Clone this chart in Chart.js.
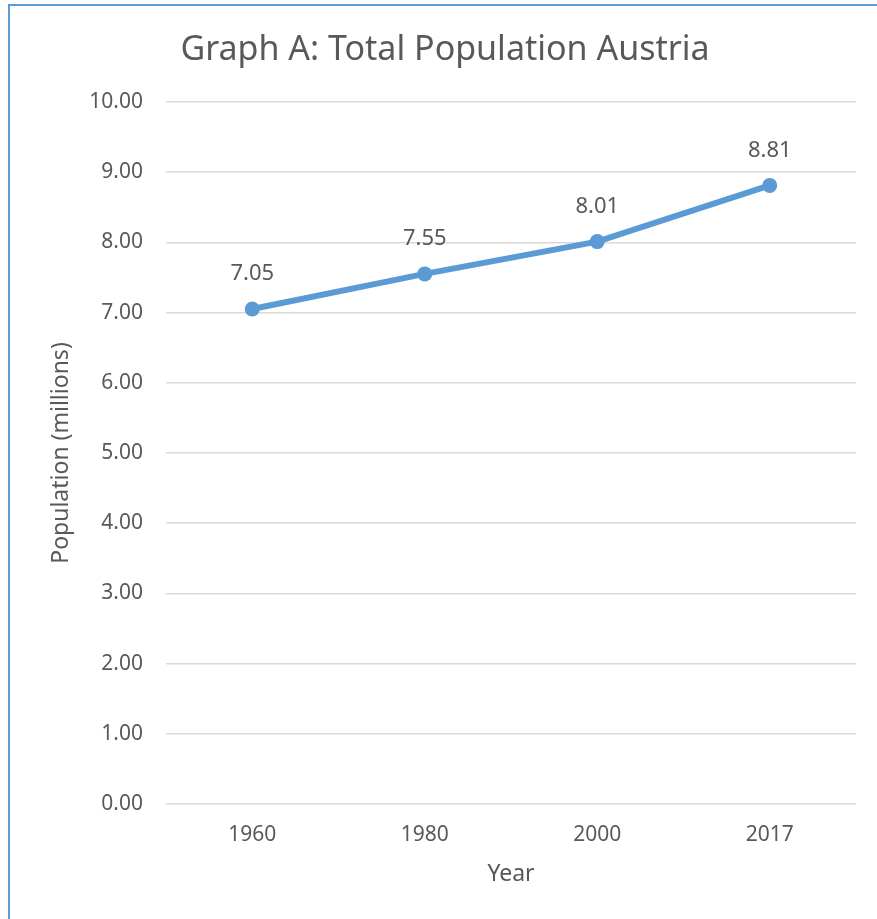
<!DOCTYPE html>
<html>
<head>
<meta charset="utf-8">
<script src="https://cdn.jsdelivr.net/npm/chart.js@4"></script>
<style>
  body { margin: 0; background: #fff; overflow: hidden; }
  #box { position: absolute; left: 8px; top: 4px; width: 869px; height: 915px;
         border-left: 2px solid #5B9BD5; border-top: 2px solid #5B9BD5; }
</style>
</head>
<body>
<div id="box"><canvas id="myChart" width="867" height="913"></canvas></div>
<script>
const years = ['1960', '1980', '2000', '2017'];
const population = [7.05, 7.55, 8.01, 8.81];
const yTicks = [0, 1, 2, 3, 4, 5, 6, 7, 8, 9, 10];

const grey = '#595959';
const blue = '#5B9BD5';
const font = 'Noto Sans';

// draws the value above each point
const pointLabels = {
    id: 'pointLabels',
    afterDatasetsDraw(chart) {
        const ctx = chart.ctx;
        const meta = chart.getDatasetMeta(0);
        ctx.save();
        ctx.font = '22px "' + font + '"';
        ctx.fillStyle = grey;
        ctx.textAlign = 'center';
        ctx.textBaseline = 'middle';
        meta.data.forEach((pt, i) => {
            ctx.fillText(population[i].toFixed(2), pt.x, pt.y - 35);
        });
        ctx.restore();
    }
};

const ctx1 = document.getElementById('myChart');

new Chart(ctx1, {
    type: 'line',
    data: {
        labels: years,
        datasets: [{
            label: 'Population',
            data: population,
            borderColor: blue,
            backgroundColor: blue,
            borderWidth: 6,
            pointRadius: 7.5,
            pointBorderWidth: 0,
            fill: false,
            tension: 0
        }]
    },
    plugins: [pointLabels],
    options: {
        responsive: false,
        animation: false,
        layout: { padding: { left: 24, right: 21, top: 0, bottom: 0 } },
        plugins: {
            legend: { display: false },
            tooltip: { enabled: false },
            title: {
                display: true,
                text: 'Graph A: Total Population Austria',
                color: grey,
                font: { family: font, size: 34, weight: 'normal' },
                padding: { top: 24, bottom: 31 }
            }
        },
        scales: {
            x: {
                offset: true,
                grid: { display: false },
                border: { display: false },
                ticks: { color: grey, font: { family: font, size: 21 }, padding: 10 },
                title: {
                    display: true,
                    text: 'Year',
                    color: grey,
                    font: { family: font, size: 23 },
                    padding: { top: 3, bottom: 31 }
                }
            },
            y: {
                min: 0,
                max: 10,
                afterBuildTicks(scale) {
                    scale.ticks = yTicks.map(v => ({ value: v }));
                },
                afterFit(scale) {
                    scale.width = 132;
                },
                grid: { color: '#D9D9D9', lineWidth: 1.5, drawTicks: false },
                border: { display: false },
                ticks: {
                    color: grey,
                    font: { family: font, size: 21 },
                    padding: 23,
                    callback: v => Number(v).toFixed(2)
                },
                title: {
                    display: true,
                    text: 'Population (millions)',
                    color: grey,
                    font: { family: font, size: 23 },
                    padding: { top: 14, bottom: 0 }
                }
            }
        }
    }
});
</script>
</body>
</html>
